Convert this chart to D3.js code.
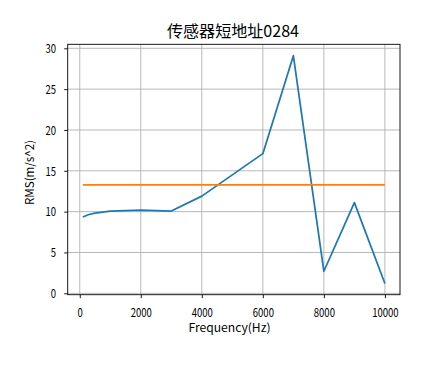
<!DOCTYPE html>
<html><head><meta charset="utf-8">
<script src="https://cdn.jsdelivr.net/npm/d3@7"></script>
<style>body{margin:0;background:#fff}svg{display:block}text{font-family:"Noto Sans CJK SC","DejaVu Sans",sans-serif;fill:#000}</style>
</head><body><svg id="c" width="444" height="370"></svg>
<script>
const title = "传感器短地址0284";
const xLabel = "Frequency(Hz)";
const yLabel = "RMS(m/s^2)";
const freq = [100, 300, 500, 1000, 2000, 3000, 4000, 5000, 6000, 7000, 8000, 9000, 10000];
const rms = [9.35, 9.65, 9.82, 10.05, 10.2, 10.07, 11.9, 14.5, 17.1, 29.1, 2.7, 11.1, 1.2];
const meanX = [100, 10000];
const meanY = [13.27, 13.27];
const xTicks = [0, 2000, 4000, 6000, 8000, 10000];
const yTicks = [0, 5, 10, 15, 20, 25, 30];

const L = 67.7, R = 400, T = 44.3, B = 294.7;
const svg = d3.select("#c");
const x = d3.scaleLinear().domain([-395, 10495]).range([L, R]);
const y = d3.scaleLinear().domain([-0.17, 30.49]).range([B, T]);
const latinFont = "\"Liberation Sans\",\"DejaVu Sans\",sans-serif";

// grid
const g = svg.append("g");
g.selectAll(".gx").data(xTicks).join("line")
  .attr("x1", d => x(d)).attr("x2", d => x(d)).attr("y1", T).attr("y2", B)
  .attr("stroke", "#b0b0b0").attr("stroke-width", 0.9);
g.selectAll(".gy").data(yTicks).join("line")
  .attr("y1", d => y(d)).attr("y2", d => y(d)).attr("x1", L).attr("x2", R)
  .attr("stroke", "#b0b0b0").attr("stroke-width", 0.9);

const line = d3.line().x(d => x(d[0])).y(d => y(d[1]));
svg.append("path").datum(freq.map((v, i) => [v, rms[i]]))
  .attr("d", line).attr("fill", "none").attr("stroke", "#1f77b4").attr("stroke-width", 1.75)
  .attr("stroke-linejoin", "round");
svg.append("path").datum(meanX.map((v, i) => [v, meanY[i]]))
  .attr("d", line).attr("fill", "none").attr("stroke", "#ff7f0e").attr("stroke-width", 1.75);

// axes
const xa = svg.append("g").attr("transform", `translate(0,${B})`)
  .call(d3.axisBottom(x).tickValues(xTicks).tickSize(3.5).tickFormat(d3.format("d")));
const ya = svg.append("g").attr("transform", `translate(${L},0)`)
  .call(d3.axisLeft(y).tickValues(yTicks).tickSize(3.5).tickFormat(d3.format("d")));
[xa, ya].forEach(a => {
  a.select(".domain").remove();
  a.selectAll("line").attr("stroke", "#000").attr("stroke-width", 0.9);
  a.selectAll("text").attr("font-size", 11.8).attr("font-family", latinFont)
    .attr("dy", null)
    .attr("textLength", function () { return this.textContent.length * 5.3; })
    .attr("lengthAdjust", "spacingAndGlyphs");
});
xa.selectAll("text").attr("y", 316.8 - B);
ya.selectAll("text").attr("x", 56 - L).attr("dy", "0.36em");

svg.append("rect").attr("x", L).attr("y", T).attr("width", R - L).attr("height", B - T)
  .attr("fill", "none").attr("stroke", "#000").attr("stroke-width", 0.9);

svg.append("text").attr("x", 233).attr("y", 36.5).attr("text-anchor", "middle")
  .attr("font-size", 16).attr("textLength", 132).attr("lengthAdjust", "spacingAndGlyphs").text(title);
svg.append("text").attr("x", 229.5).attr("y", 332).attr("text-anchor", "middle")
  .attr("font-family", latinFont)
  .attr("font-size", 11.5).attr("textLength", 82).attr("lengthAdjust", "spacingAndGlyphs").text(xLabel);
svg.append("text").attr("transform", `translate(33.5,172.5) rotate(-90)`).attr("text-anchor", "middle")
  .attr("font-family", latinFont)
  .attr("font-size", 11.5).attr("textLength", 65).attr("lengthAdjust", "spacingAndGlyphs").text(yLabel);
</script></body></html>
